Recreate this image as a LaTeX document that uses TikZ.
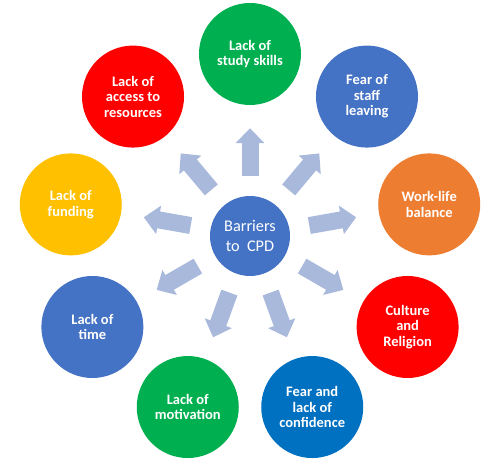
\documentclass[tikz,border=0pt]{standalone}
\usepackage{fontspec}
\setmainfont{Carlito}
\usepackage{tikz}
\usetikzlibrary{arrows.meta,positioning,calc}
\definecolor{cgreen}{RGB}{0,176,80}
\definecolor{cred}{RGB}{255,0,0}
\definecolor{cblue}{RGB}{68,114,196}
\definecolor{cyellow}{RGB}{255,192,0}
\definecolor{corange}{RGB}{237,125,49}
\definecolor{cdblue}{RGB}{0,112,192}
\definecolor{carrow}{RGB}{169,185,220}

\begin{document}
\begin{tikzpicture}[x=1pt, y=1pt,
  hub/.style={circle, fill=cblue, text=white, minimum size=80pt, inner sep=0pt, align=center, font=\fontsize{16.3}{19.3}\selectfont},
  b/.style={circle, text=white, minimum size=102pt, inner sep=0pt, align=center, font=\bfseries\fontsize{14.5}{15.5}\selectfont},
  a/.style={-{Triangle[length=15pt, width=28pt]}, line width=17pt, draw=carrow, shorten <=20pt, shorten >=23pt}
]
\useasboundingbox (0,0) rectangle (499,461);

\node[hub] (C) at (250,225) {Barriers\\to~~CPD};

\node[b, fill=cgreen]  (skills)     at ($(C)+(90:182)$)  {Lack of\\study skills};
\node[b, fill=cred]    (access)     at ($(C)+(130:182)$) {Lack of\\access to\\resources};
\node[b, fill=cblue]   (staff)      at ($(C)+(50:182)$)  {Fear of\\staff\\leaving};
\node[b, fill=cyellow] (funding)    at ($(C)+(170:182)$) {Lack of\\funding};
\node[b, fill=corange] (worklife)   at ($(C)+(10:182)$)  {Work-life\\balance};
\node[b, fill=cblue]   (time)       at ($(C)+(210:182)$) {Lack of\\time};
\node[b, fill=cred]    (culture)    at ($(C)+(-30:182)$) {Culture\\and\\Religion};
\node[b, fill=cgreen]  (motivation) at ($(C)+(250:182)$) {Lack of\\motivation};
\node[b, fill=cdblue]  (confidence) at ($(C)+(-70:182)$) {Fear and\\lack of\\confidence};

\draw[a] (C) -- (skills);
\draw[a] (C) -- (access);
\draw[a] (C) -- (staff);
\draw[a] (C) -- (funding);
\draw[a] (C) -- (worklife);
\draw[a] (C) -- (time);
\draw[a] (C) -- (culture);
\draw[a] (C) -- (motivation);
\draw[a] (C) -- (confidence);
\end{tikzpicture}
\end{document}
